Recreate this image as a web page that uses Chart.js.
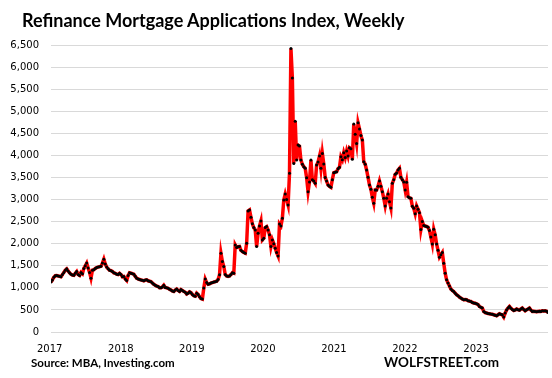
<!DOCTYPE html>
<html>
<head>
<meta charset="utf-8">
<script src="https://cdn.jsdelivr.net/npm/chart.js@4/dist/chart.umd.min.js"></script>
<style>
  html, body { margin: 0; padding: 0; background: #fff; }
  #wrap { position: relative; width: 552px; height: 378px; overflow: hidden; }
  canvas { position: absolute; left: 0; top: 0; }
  .txt { position: absolute; font-family: Lato, "Open Sans", sans-serif; font-weight: bold; color: #000; white-space: nowrap; }
  #title { left: 22px; top: 9px; font-size: 18px; }
  #source { left: 31px; top: 356px; font-size: 11.5px; }
  #brand { left: 384px; top: 354px; font-size: 13.5px; }
</style>
</head>
<body>
<div id="wrap">
  <canvas id="c" width="552" height="378"></canvas>
  <div class="txt" id="title">Refinance Mortgage Applications Index, Weekly</div>
  <div class="txt" id="source">Source: MBA, Investing.com</div>
  <div class="txt" id="brand">WOLFSTREET.com</div>
</div>
<script>
// Weekly refinance index values, grouped by the x-axis label they fall under
const yr2017 = [1130,1180,1240,1275,1280,1270,1260,1250,1300,1350,
  1400,1430,1380,1340,1310,1290,1285,1330,1370,1300,
  1280,1350,1320,1440,1500,1560,1450,1350,1220,1400,
  1410,1440,1460,1470,1480,1490,1560,1650,1540,1470,
  1430,1400,1390,1370,1340,1330,1310,1300,1330,1300];
const yr2018 = [1250,1257,1200,1166,1280,1340,1333,1320,1310,1260,
  1220,1200,1190,1180,1170,1160,1175,1182,1160,1150,
  1140,1110,1080,1060,1040,1030,1000,1000,1020,1060,
  1010,1000,990,970,950,930,918,950,972,940,
  918,960,940,920,900,860,880,910,890,850];
const yr2019 = [820,810,880,850,800,760,746,994,1198,1120,
  1080,1090,1110,1120,1130,1140,1150,1190,1295,1785,
  1596,1483,1300,1270,1260,1270,1300,1340,1330,1973,
  1912,1930,1935,1850,1822,1800,1785,2011,2741,2764,
  2600,2450,2364,2312,1935,2237,2400,2515,2086,2124];
const yr2020 = [2364,2387,2312,2200,1935,2086,2000,1898,1800,1724,
  2447,2402,2576,2990,3126,3000,2877,3593,6418,5754,
  3819,4775,3894,4233,4210,3894,3800,3743,3706,3494,
  3178,3400,3894,3450,3420,3367,3781,3850,3984,3706,
  4045,3804,3500,3419,3329,3300,3277,3450,3607,3620];
const yr2021 = [3630,3700,3729,3969,3900,4059,3950,4100,3984,4172,
  4150,3910,4708,4480,4271,4737,4600,4450,4346,3856,
  3800,3668,3503,3329,3232,3050,2916,3216,3216,3300,
  3419,3300,3178,3028,2855,3028,3126,2950,2810,3367,
  3450,3570,3600,3668,3706,3503,3450,3400,3216,3390];
const yr2022 = [3065,3040,3028,2850,2802,2680,2855,2780,2703,2320,
  2500,2410,2400,2390,2373,2300,2150,1995,2327,2200,
  1995,1850,1695,1747,1800,1559,1333,1182,1107,1040,
  972,940,918,880,843,820,790,768,750,730,
  735,730,710,700,692,670,655,650,640,620];
const yr2023 = [579,560,542,466,440,429,420,414,405,400,
  391,380,368,390,414,400,391,339,429,500,
  542,579,540,510,488,500,520,505,495,520,
  542,510,481,504,520,542,500,466,470,466,
  460,466,470,466,481,475,481,470,443];

const yearLabels = ['2017','2018','2019','2020','2021','2022','2023'];
const yTickValues = [0,500,1000,1500,2000,2500,3000,3500,4000,4500,5000,5500,6000,6500];

const series = [].concat(yr2017, yr2018, yr2019, yr2020, yr2021, yr2022, yr2023);
const points = series.map((v, i) => ({ x: i, y: v }));

const LABEL_STEP = 49.75, LABEL_OFFSET = -0.9;

new Chart(document.getElementById('c'), {
  type: 'line',
  data: {
    datasets: [{
      data: points,
      borderColor: '#ff0000',
      borderWidth: 3.5,
      tension: 0,
      pointRadius: 1.5,
      pointBackgroundColor: '#000',
      pointBorderWidth: 0,
      pointHoverRadius: 1.5
    }]
  },
  options: {
    responsive: false,
    animation: false,
    events: [],
    layout: { padding: { top: 45, right: 4, bottom: 26, left: 0 } },
    plugins: { legend: { display: false }, title: { display: false }, tooltip: { enabled: false } },
    scales: {
      x: {
        type: 'linear',
        min: 0,
        max: series.length - 1,
        grid: { display: false, drawTicks: false },
        border: { display: false },
        afterBuildTicks: (s) => { s.ticks = yearLabels.map((_, k) => ({ value: k * LABEL_STEP + LABEL_OFFSET })); },
        afterFit: (s) => { s.height = 20; },
        ticks: {
          autoSkip: false, maxRotation: 0, padding: 11,
          color: '#000',
          font: { family: 'DejaVu Sans', size: 10 },
          callback: (v, i) => yearLabels[i]
        }
      },
      y: {
        min: 0,
        max: 6500,
        grid: { color: '#d9d9d9', lineWidth: 1, drawTicks: false },
        border: { display: false },
        afterBuildTicks: (s) => { s.ticks = yTickValues.map(v => ({ value: v })); },
        afterFit: (s) => { s.width = 51; },
        ticks: {
          padding: 12,
          color: '#000',
          font: { family: 'DejaVu Sans', size: 10 },
          callback: (v) => Number(v).toLocaleString('en-US')
        }
      }
    }
  }
});
</script>
</body>
</html>
